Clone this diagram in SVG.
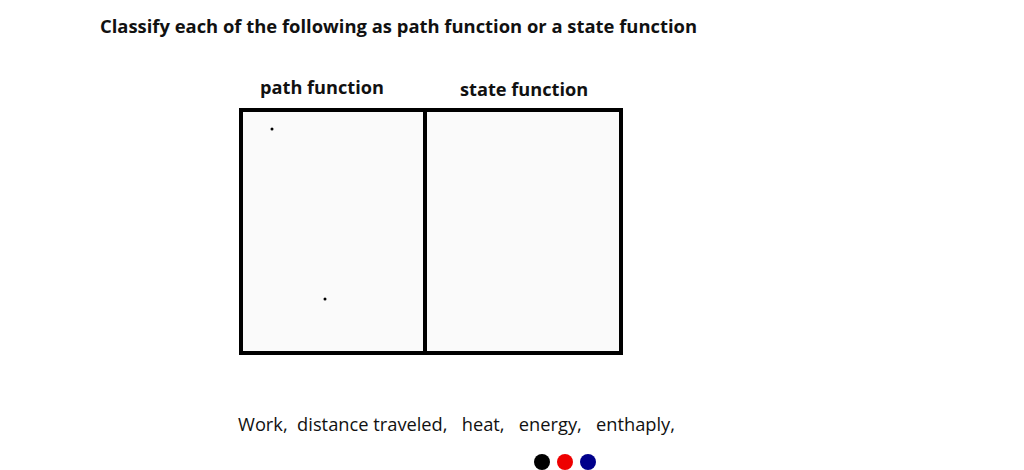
<svg xmlns="http://www.w3.org/2000/svg" width="1024" height="470" viewBox="0 0 1024 470">
<style>
text{font-family:"Open Sans","Liberation Sans",sans-serif;fill:#111;white-space:pre}
.b{font-weight:bold;font-size:18.2px}
.box{fill:#fafafa;stroke:#000;stroke-width:4}
</style>
<rect width="1024" height="470" fill="#fff"/>
<text class="b" x="100" y="33" style="font-size:18.4px">Classify each of the following as path function or a state function</text>
<g id="path-function">
<rect class="box" x="241" y="110" width="184" height="243"/>
<text class="b" x="260" y="94">path function</text>
<circle cx="272" cy="129" r="1.5" fill="#000"/>
<circle cx="325" cy="299" r="1.5" fill="#000"/>
</g>
<g id="state-function">
<rect class="box" x="425" y="110" width="196" height="243"/>
<text class="b" x="460" y="96">state function</text>
</g>
<g id="connectors"></g>
<text x="238" y="431" font-size="18.3" xml:space="preserve" textLength="437" lengthAdjust="spacing">Work,  distance traveled,   heat,   energy,   enthaply,</text>
<g id="dots">
<circle cx="542" cy="462" r="8" fill="#000"/>
<circle cx="565" cy="462" r="8" fill="#e00"/>
<circle cx="588" cy="462" r="8" fill="#00008b"/>
</g>
</svg>
